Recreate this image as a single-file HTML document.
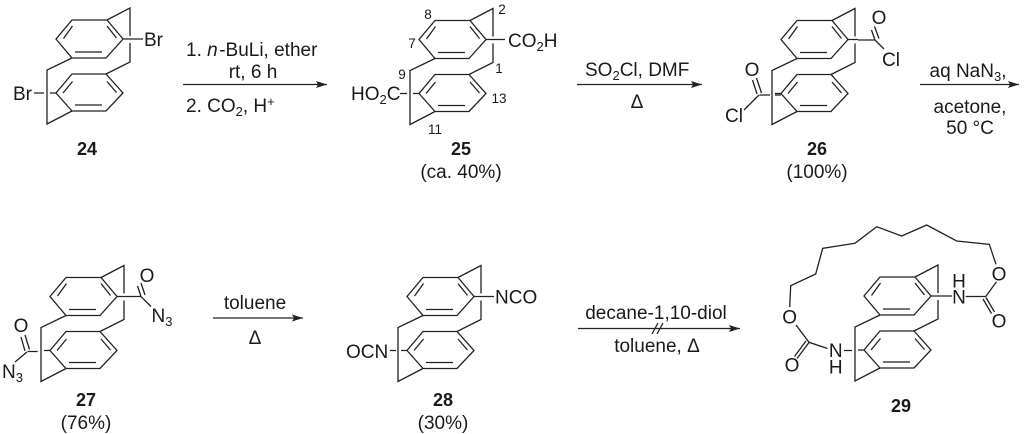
<!DOCTYPE html>
<html><head><meta charset="utf-8">
<style>
html,body{margin:0;padding:0;background:#fff}
svg{display:block}
text{font-family:"Liberation Sans",sans-serif;font-size:19px;fill:#1a1a1a}
.b{font-weight:bold;font-size:18px}
.n{font-size:13.5px}
.l{fill:none;stroke:#222;stroke-width:1.3}
</style></head><body>
<svg xmlns="http://www.w3.org/2000/svg" width="1024" height="434" viewBox="0 0 1024 434">
<defs>
<g id="core" class="l">
<path d="M72 20H107L123 39L106 58H72L56 39Z"/>
<path d="M63.5 38.5L72.5 26M107 26L116.5 38M75 52H102"/>
<path d="M72 74H106L123 93L106 111H72L56 93Z"/>
<path d="M63 93L72.5 81.5M107 81.5L116.5 92.5M75 105H102"/>
<path d="M107 20L130 8V36M130 43V62L106 74"/>
<path d="M72 58L47 70V124L72 111"/>
<path d="M123 39H133M50 93H56"/>
</g>
<marker id="a" markerWidth="11" markerHeight="7" refX="11" refY="3.5" orient="auto" markerUnits="userSpaceOnUse"><path d="M0 0L11 3.5L0 7L2 3.5Z" fill="#222"/></marker>
</defs>

<!-- 24 -->
<use href="#core"/>
<path class="l" d="M133 39H143M34 93H44"/>
<text x="144" y="46">Br</text>
<text x="13" y="100">Br</text>
<text x="87" y="155" text-anchor="middle" class="b">24</text>

<path class="l" d="M183 84.5H327" marker-end="url(#a)"/>
<text x="186" y="56">1. <tspan font-style="italic">n</tspan><tspan dx="1.5">-BuLi, ether</tspan></text>
<text x="253" y="78" text-anchor="middle">rt, 6 h</text>
<text x="186" y="112">2. CO<tspan dy="4" font-size="13">2</tspan><tspan dy="-4">, H</tspan><tspan dy="-6" font-size="13">+</tspan></text>

<!-- 25 -->
<use href="#core" x="363" y="0.5"/>
<path class="l" d="M496 39.5H505M400 93.5H407"/>
<text x="508" y="47">CO<tspan dy="4" font-size="13">2</tspan><tspan dy="-4">H</tspan></text>
<text x="351" y="100">HO<tspan dy="4" font-size="13">2</tspan><tspan dy="-4">C</tspan></text>
<text class="n" x="428" y="19" text-anchor="middle">8</text>
<text class="n" x="502" y="14" text-anchor="middle">2</text>
<text class="n" x="412" y="48" text-anchor="middle">7</text>
<text class="n" x="499" y="73" text-anchor="middle">1</text>
<text class="n" x="402" y="79" text-anchor="middle">9</text>
<text class="n" x="499" y="103" text-anchor="middle">13</text>
<text class="n" x="435" y="134" text-anchor="middle">11</text>
<text x="461" y="155" text-anchor="middle" class="b">25</text>
<text x="461" y="178" text-anchor="middle">(ca. 40%)</text>

<path class="l" d="M577 84.5H702" marker-end="url(#a)"/>
<text x="585" y="76">SO<tspan dy="4" font-size="13">2</tspan><tspan dy="-4">Cl, DMF</tspan></text>
<text x="637" y="108" text-anchor="middle">&#916;</text>

<!-- 26 -->
<use href="#core" x="725" y="0.5"/>
<path class="l" d="M858 40H875L884 49M875 40L871.5 30M879 38.5L874.5 26.5M759.5 95H770M759 95L744 110M757 94L752.5 80M761.5 93L756.5 78"/>
<text x="879" y="24" text-anchor="middle">O</text>
<text x="891" y="66" text-anchor="middle">Cl</text>
<text x="752" y="76" text-anchor="middle">O</text>
<text x="734" y="122" text-anchor="middle">Cl</text>
<path class="l" d="M775 95H781"/>
<text x="817" y="155" text-anchor="middle" class="b">26</text>
<text x="817" y="178" text-anchor="middle">(100%)</text>

<path class="l" d="M920 84.5H1019" marker-end="url(#a)"/>
<text x="968" y="77" text-anchor="middle">aq NaN<tspan dy="4" font-size="13">3</tspan><tspan dy="-4">,</tspan></text>
<text x="970" y="113" text-anchor="middle">acetone,</text>
<text x="970" y="134" text-anchor="middle">50 °C</text>

<!-- 27 -->
<use href="#core" x="-6" y="257.5"/>
<path class="l" d="M127 296.5H141L151 306.5M141 296.5L137.5 286M145 295L141 283M27.5 351.5H37.7M27 352L15 362M25 351L21 337M29.5 349.5L25 335"/>
<text x="147" y="282" text-anchor="middle">O</text>
<text x="151.5" y="322">N<tspan dy="4" font-size="13">3</tspan></text>
<text x="21" y="332" text-anchor="middle">O</text>
<text x="2" y="378">N<tspan dy="4" font-size="13">3</tspan></text>
<text x="86" y="406" text-anchor="middle" class="b">27</text>
<text x="86" y="429" text-anchor="middle">(76%)</text>

<path class="l" d="M213 318H303" marker-end="url(#a)"/>
<text x="255" y="309" text-anchor="middle">toluene</text>
<text x="255" y="344" text-anchor="middle">&#916;</text>

<!-- 28 -->
<use href="#core" x="351" y="257.5"/>
<path class="l" d="M484 296.5H494M390 350.5H396"/>
<text x="495" y="303.5">NCO</text>
<text x="346" y="358">OCN</text>
<text x="443" y="406" text-anchor="middle" class="b">28</text>
<text x="443" y="429" text-anchor="middle">(30%)</text>

<path class="l" d="M578 328.5H740" marker-end="url(#a)"/>
<path class="l" d="M652 334L658 323M657 334L663 323"/>
<text x="656" y="319" text-anchor="middle">decane-1,10-diol</text>
<text x="657" y="352" text-anchor="middle">toluene, &#916;</text>

<!-- 29 -->
<use href="#core" x="808" y="257"/>
<path class="l" d="M941 296H952M844 350.5H852M965.7 296.5H985.7L996.5 281.7M986 297.5L994.5 312M983 299L991.5 313.5M827.5 348.5L809 342.3L796 325M809 342.5L797 358.5M806 341L794.5 356.5"/>
<path class="l" d="M996 264.3L989.3 244.3L956.7 241L926.7 225L901.7 236L876.7 226.7L855 243.3L822.7 248.3L815.7 274L790.7 285.7L789.7 307"/>
<text x="999" y="280.5" text-anchor="middle">O</text>
<text x="999" y="327.5" text-anchor="middle">O</text>
<text x="959" y="303.5" text-anchor="middle">N</text>
<text x="959" y="287.5" text-anchor="middle">H</text>
<text x="789.7" y="323.5" text-anchor="middle">O</text>
<text x="792" y="371.5" text-anchor="middle">O</text>
<text x="835.7" y="357" text-anchor="middle">N</text>
<text x="835.7" y="373.5" text-anchor="middle">H</text>
<text x="901" y="412" text-anchor="middle" class="b">29</text>
</svg>
</body></html>
